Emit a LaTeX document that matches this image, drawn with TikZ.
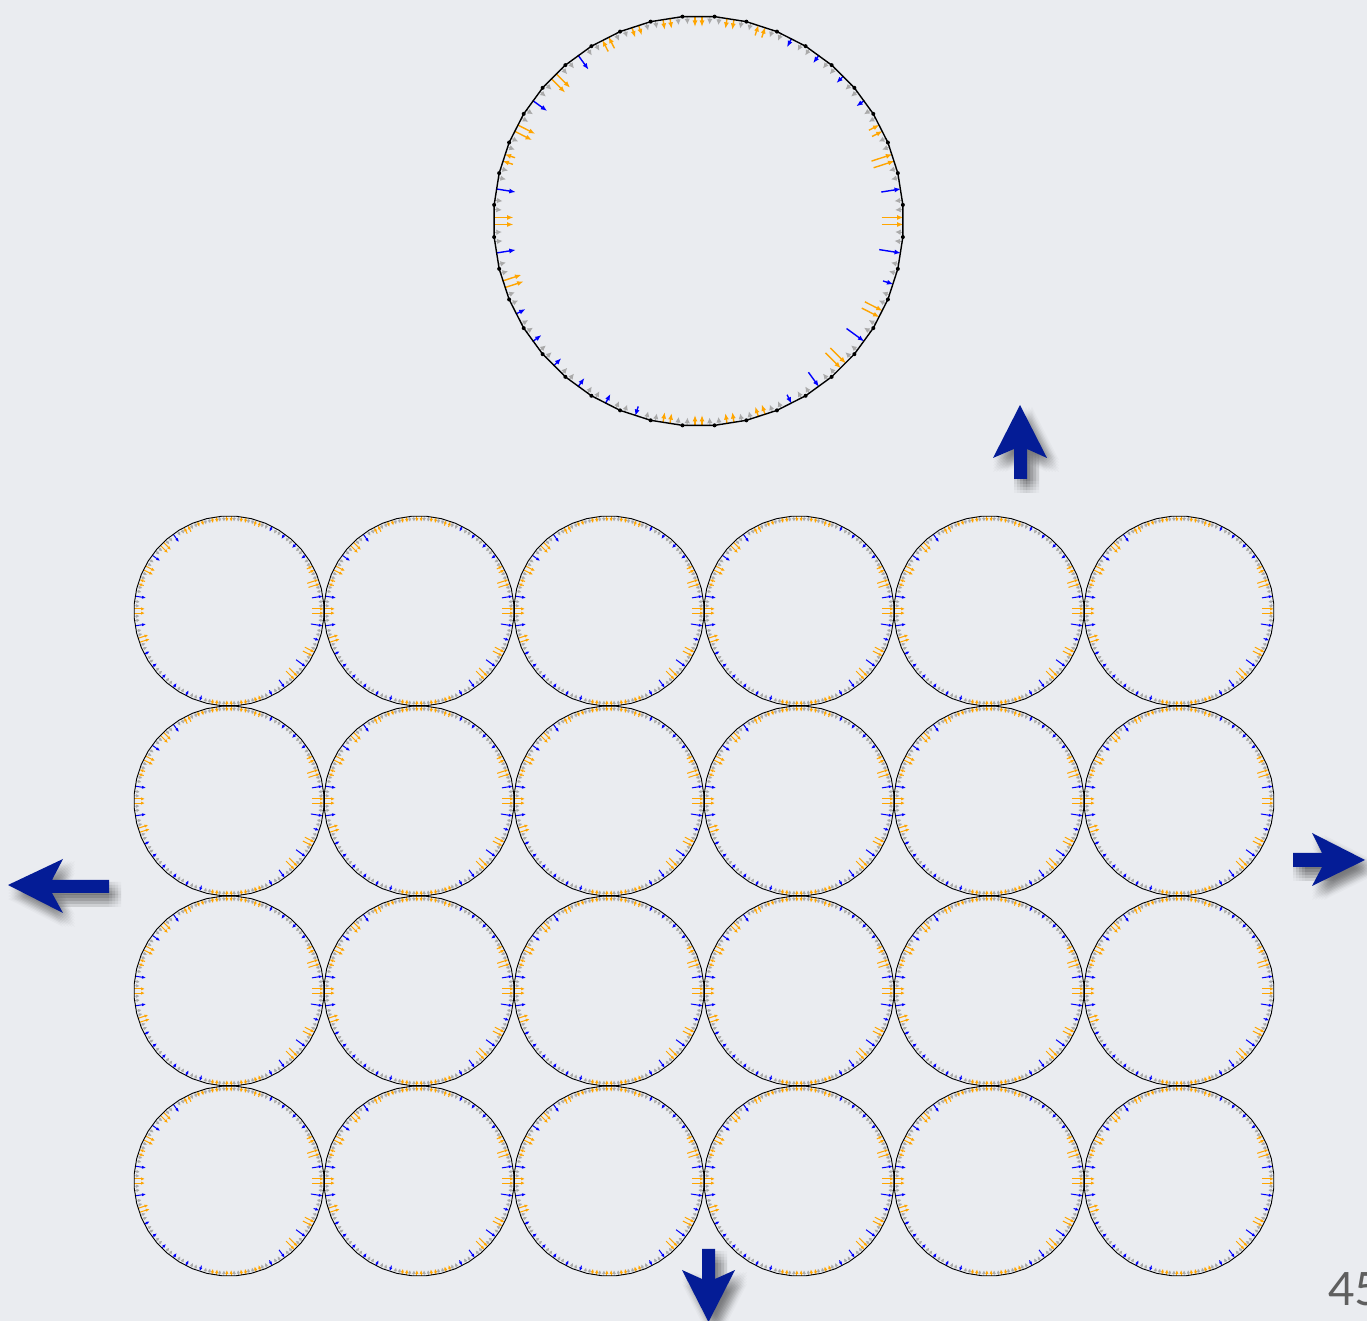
\documentclass[tikz,border=0pt]{standalone}
\usepackage{fontspec}
\newfontfamily\pnfont{Lato}
\usetikzlibrary{arrows.meta}
\definecolor{bg}{RGB}{234,236,240}
\definecolor{navy}{RGB}{4,28,150}
\definecolor{orng}{RGB}{255,165,0}
\definecolor{blu}{RGB}{0,0,255}
\definecolor{gry}{RGB}{170,170,170}
\definecolor{pn}{RGB}{95,95,95}
\tikzset{
  colbig/.style={line width=1.4pt,-{Latex[length=6.5pt,width=5pt]}},
  colsmall/.style={line width=1pt,-{Latex[length=4pt,width=3.2pt]}},
  graybig/.style={gry,line width=1pt,-{Latex[length=5.5pt,width=5.5pt]}},
  graysmall/.style={gry,line width=0.7pt,-{Latex[length=3.5pt,width=3.5pt]}},
  bigarrow/.style={fill=navy,draw=none},
  shadowcopy/.style={fill=black,fill opacity=0.022,draw=none}
}
\def\pat{0/0/-1/22,1/1/-1/20,2/0/-1/22,3/0/-1/12,4/1/1/10,5/1/1/10,6/1/1/10,7/1/1/10,8/0/-1/11,9/0/1/11,10/0/1/11,11/0/1/11,12/0/1/11,13/0/-1/13,14/1/1/18,15/0/1/20,16/1/1/18,17/0/1/20,18/0/-1/11,19/1/1/20,20/0/1/20,21/1/1/20,22/0/1/20,23/1/1/11,24/1/1/11,25/1/1/11,26/1/1/11,27/1/1/11,28/1/-1/10,29/0/1/11,30/0/1/11,31/0/1/11,32/0/1/11,33/1/-1/10,34/1/-1/18,35/0/-1/22,36/1/-1/22,37/0/-1/20,38/1/-1/11,39/1/-1/22}
% #1 cx, #2 cy, #3 R, #4 scale, #5 big/small, #6 polygon line width
\newcommand{\fieldring}[6]{%
  \foreach \kk/\ty/\dr/\len in \pat {%
    \pgfmathsetmacro{\ang}{9*\kk}%
    \pgfmathsetmacro{\lenS}{max(#4*\len,6)}%
    \ifnum\dr=1
      \pgfmathsetmacro{\rA}{#3}\pgfmathsetmacro{\rB}{#3-\lenS}%
    \else
      \pgfmathsetmacro{\rA}{#3-\lenS}\pgfmathsetmacro{\rB}{#3}%
    \fi
    \pgfmathsetmacro{\gl}{max(8*#4,5.5)}%
    \foreach \dg in {-3.2,3.2} {%
      \draw[gray#5] ({#1+#3*cos(\ang+\dg)},{#2+#3*sin(\ang+\dg)}) -- ({#1+(#3-\gl)*cos(\ang+\dg)},{#2+(#3-\gl)*sin(\ang+\dg)});
    }
    \ifnum\ty=1
      \draw[col#5,blu] ({#1+\rA*cos(\ang)},{#2+\rA*sin(\ang)}) -- ({#1+\rB*cos(\ang)},{#2+\rB*sin(\ang)});
    \else
      \pgfmathsetmacro{\off}{3*#4+0.5}%
      \foreach \sg in {-1,1} {%
        \draw[col#5,orng] ({#1+\rA*cos(\ang)-\sg*\off*sin(\ang)},{#2+\rA*sin(\ang)+\sg*\off*cos(\ang)}) -- ({#1+\rB*cos(\ang)-\sg*\off*sin(\ang)},{#2+\rB*sin(\ang)+\sg*\off*cos(\ang)});
      }
    \fi
  }
  \draw[line width=#6] plot[domain=4.5:364.5,samples=41] ({#1+#3*cos(\x)},{#2+#3*sin(\x)});
}
\newcommand{\arrUp}{(1020,916) -- (1047,863) -- (1027,872) -- (1027,842) -- (1014,842) -- (1014,872) -- (993,863) -- cycle}
\newcommand{\arrLeft}{(8,436) -- (63,462) -- (52,441) -- (109,441) -- (109,428) -- (52,428) -- (63,408) -- cycle}
\newcommand{\arrRight}{(1365,461) -- (1312,488) -- (1322,468) -- (1293,468) -- (1293,454) -- (1322,454) -- (1312,435) -- cycle}
\newcommand{\arrDown}{(708.5,-1) -- (735,51) -- (715,42) -- (715,72) -- (702,72) -- (702,42) -- (682,51) -- cycle}
\begin{document}
\begin{tikzpicture}[x=1pt,y=1pt]
\useasboundingbox (0,0) rectangle (1367,1321);
\fill[bg] (0,0) rectangle (1367,1321);
% big ring
\fieldring{698.5}{1100}{205}{1}{big}{1.4pt}
\foreach \j in {0,...,39} {
  \fill ({698.5+205*cos(4.5+9*\j)},{1100+205*sin(4.5+9*\j)}) circle (2pt);
}
% grid of small rings
\foreach \i in {0,...,5} {
  \foreach \j in {0,...,3} {
    \fieldring{229+190*\i}{710-190*\j}{95}{0.55}{small}{0.9pt}
  }
}
% soft shadows of the big navy arrows
\foreach \sx in {-6,-3,0,3,6} {
  \foreach \sy in {-6,-3,0,3,6} {
    \begin{scope}[shift={(6+\sx,-8+\sy)}]
      \fill[shadowcopy] \arrUp;
      \fill[shadowcopy] \arrLeft;
      \fill[shadowcopy] \arrRight;
      \fill[shadowcopy] \arrDown;
    \end{scope}
  }
}
% big navy arrows
\fill[bigarrow] \arrUp;
\fill[bigarrow] \arrLeft;
\fill[bigarrow] \arrRight;
\fill[bigarrow] \arrDown;
% page number
\node[anchor=base west,inner sep=0pt,text=pn,font=\pnfont\fontsize{46}{50}\selectfont] (pagenum) at (1328,15) {45};
\end{tikzpicture}
\end{document}
